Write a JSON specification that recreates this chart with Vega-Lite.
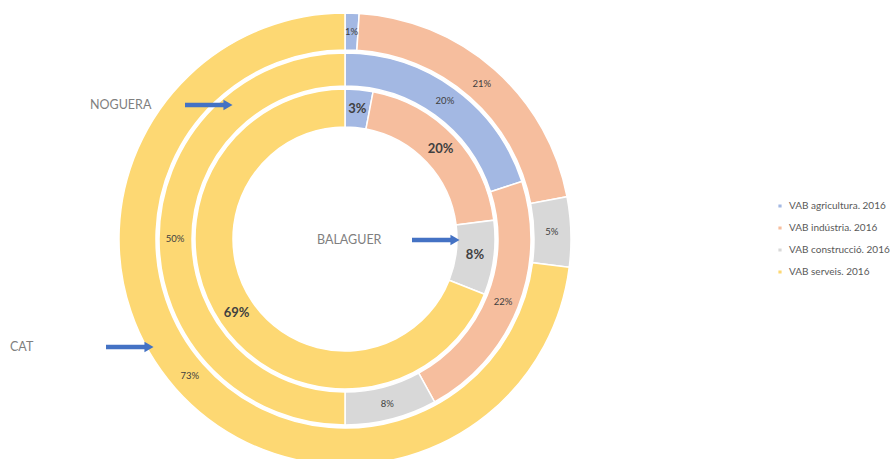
{
  "$schema": "https://vega.github.io/schema/vega-lite/v6.json",
  "width": 893,
  "height": 459,
  "autosize": "none",
  "padding": 0,
  "background": "white",
  "config": {"view": {"stroke": null}, "font": "Lato"},
  "datasets": {
    "vab": [
      {"ring": "CAT", "sector": "VAB agricultura. 2016", "k": 1, "share": 0.01},
      {"ring": "CAT", "sector": "VAB indústria. 2016", "k": 2, "share": 0.21},
      {"ring": "CAT", "sector": "VAB construcció. 2016", "k": 3, "share": 0.05},
      {"ring": "CAT", "sector": "VAB serveis. 2016", "k": 4, "share": 0.73},
      {"ring": "NOGUERA", "sector": "VAB agricultura. 2016", "k": 1, "share": 0.20},
      {"ring": "NOGUERA", "sector": "VAB indústria. 2016", "k": 2, "share": 0.22},
      {"ring": "NOGUERA", "sector": "VAB construcció. 2016", "k": 3, "share": 0.08},
      {"ring": "NOGUERA", "sector": "VAB serveis. 2016", "k": 4, "share": 0.50},
      {"ring": "BALAGUER", "sector": "VAB agricultura. 2016", "k": 1, "share": 0.03},
      {"ring": "BALAGUER", "sector": "VAB indústria. 2016", "k": 2, "share": 0.20},
      {"ring": "BALAGUER", "sector": "VAB construcció. 2016", "k": 3, "share": 0.08},
      {"ring": "BALAGUER", "sector": "VAB serveis. 2016", "k": 4, "share": 0.69}
    ],
    "notes": [
      {"label": "NOGUERA", "lx": 90, "ly": 105, "a1": 185, "tip": 233},
      {"label": "CAT", "lx": 10, "ly": 347, "a1": 106, "tip": 154},
      {"label": "BALAGUER", "lx": 317, "ly": 240, "a1": 412, "tip": 460}
    ]
  },
  "data": {"name": "vab"},
  "layer": [
    {
      "transform": [{"filter": "datum.ring === 'CAT'"}],
      "mark": {"type": "arc", "radius": 226, "radius2": 189, "stroke": "white", "strokeWidth": 1.5},
      "encoding": {
        "x": {"datum": 345, "type": "quantitative", "scale": {"domain": [0, 893], "nice": false, "zero": false}, "axis": null},
        "y": {"datum": 239, "type": "quantitative", "scale": {"domain": [0, 459], "nice": false, "zero": false, "reverse": true}, "axis": null},
        "theta": {"field": "share", "type": "quantitative", "stack": true},
        "order": {"field": "k"},
        "color": {
          "field": "sector", "type": "nominal",
          "scale": {"domain": ["VAB agricultura. 2016", "VAB indústria. 2016", "VAB construcció. 2016", "VAB serveis. 2016"], "range": ["#A3B8E3", "#F6BE9E", "#D8D8D8", "#FDD873"]},
          "legend": {"title": null, "orient": "none", "legendX": 775, "legendY": 201, "symbolType": "square", "symbolSize": 22, "labelFontSize": 10, "labelColor": "#595959", "rowPadding": 10, "labelOffset": 4}
        }
      }
    },
    {
      "transform": [{"filter": "datum.ring === 'NOGUERA'"}],
      "mark": {"type": "arc", "radius": 186, "radius2": 153, "stroke": "white", "strokeWidth": 1.5},
      "encoding": {
        "x": {"datum": 345, "type": "quantitative"},
        "y": {"datum": 239, "type": "quantitative"},
        "theta": {"field": "share", "type": "quantitative", "stack": true},
        "order": {"field": "k"},
        "color": {"field": "sector", "type": "nominal"}
      }
    },
    {
      "transform": [{"filter": "datum.ring === 'BALAGUER'"}],
      "mark": {"type": "arc", "radius": 150, "radius2": 112, "stroke": "white", "strokeWidth": 1.5},
      "encoding": {
        "x": {"datum": 345, "type": "quantitative"},
        "y": {"datum": 239, "type": "quantitative"},
        "theta": {"field": "share", "type": "quantitative", "stack": true},
        "order": {"field": "k"},
        "color": {"field": "sector", "type": "nominal"}
      }
    },
    {
      "transform": [{"filter": "datum.ring === 'CAT'"}],
      "mark": {"type": "text", "radius": 207, "fontSize": 9.5, "color": "#404040"},
      "encoding": {
        "x": {"datum": 345, "type": "quantitative"},
        "y": {"datum": 239, "type": "quantitative"},
        "theta": {"field": "share", "type": "quantitative", "stack": true},
        "order": {"field": "k"},
        "text": {"field": "share", "type": "quantitative", "format": ".0%"}
      }
    },
    {
      "transform": [{"filter": "datum.ring === 'NOGUERA'"}],
      "mark": {"type": "text", "radius": 170, "fontSize": 9.5, "color": "#404040"},
      "encoding": {
        "x": {"datum": 345, "type": "quantitative"},
        "y": {"datum": 239, "type": "quantitative"},
        "theta": {"field": "share", "type": "quantitative", "stack": true},
        "order": {"field": "k"},
        "text": {"field": "share", "type": "quantitative", "format": ".0%"}
      }
    },
    {
      "transform": [{"filter": "datum.ring === 'BALAGUER'"}],
      "mark": {"type": "text", "radius": 131, "fontSize": 13, "fontWeight": "bold", "color": "#404040"},
      "encoding": {
        "x": {"datum": 345, "type": "quantitative"},
        "y": {"datum": 239, "type": "quantitative"},
        "theta": {"field": "share", "type": "quantitative", "stack": true},
        "order": {"field": "k"},
        "text": {"field": "share", "type": "quantitative", "format": ".0%"}
      }
    },
    {
      "data": {"name": "notes"},
      "mark": {"type": "text", "align": "left", "baseline": "middle", "fontSize": 12.5, "color": "#7F7F7F"},
      "encoding": {
        "x": {"field": "lx", "type": "quantitative"},
        "y": {"field": "ly", "type": "quantitative"},
        "text": {"field": "label"}
      }
    },
    {
      "data": {"name": "notes"},
      "mark": {"type": "rule", "color": "#4472C4", "strokeWidth": 4.5, "x2Offset": -6},
      "encoding": {
        "x": {"field": "a1", "type": "quantitative"},
        "x2": {"field": "tip"},
        "y": {"field": "ly", "type": "quantitative"}
      }
    },
    {
      "data": {"name": "notes"},
      "mark": {"type": "point", "shape": "triangle-right", "filled": true, "opacity": 1, "color": "#4472C4", "size": 110, "xOffset": -5},
      "encoding": {
        "x": {"field": "tip", "type": "quantitative"},
        "y": {"field": "ly", "type": "quantitative"}
      }
    }
  ]
}
